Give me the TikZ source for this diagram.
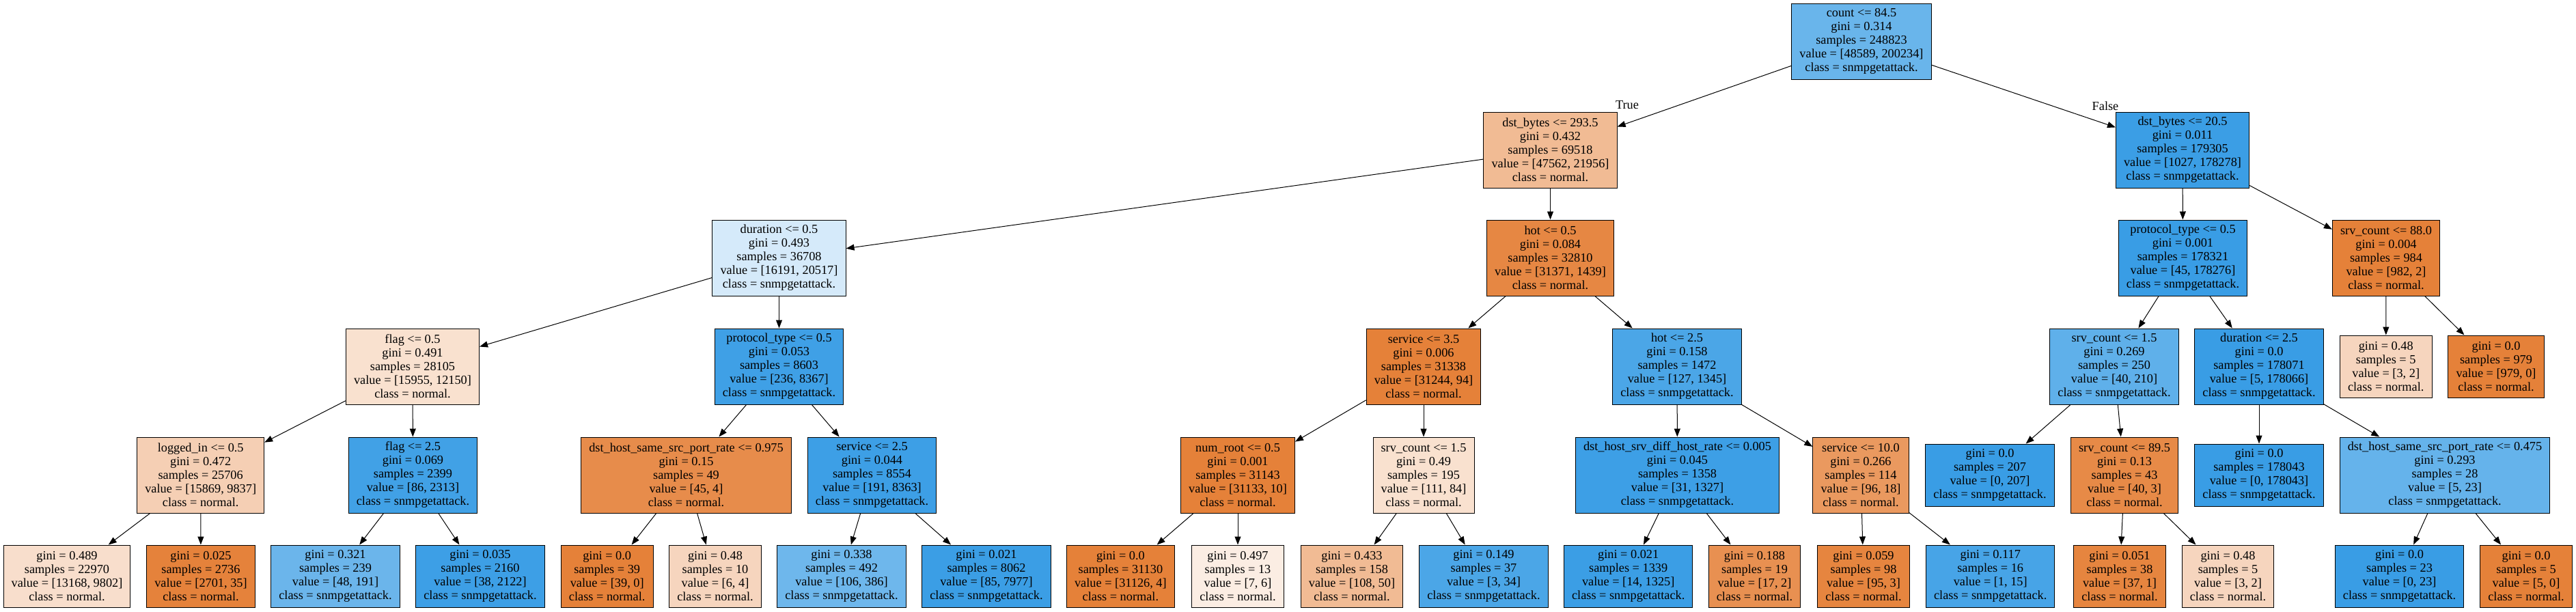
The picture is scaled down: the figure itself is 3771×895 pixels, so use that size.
\documentclass[tikz,border=0pt]{standalone}
\usepackage{fontspec}
\setmainfont{Liberation Serif}
\usepackage{tikz}
\usetikzlibrary{arrows,arrows.meta,shapes}
\definecolor{nrm}{HTML}{E58139}
\definecolor{atk}{HTML}{399DE5}
\newcommand{\treefont}{\fontsize{18.3}{20}\selectfont}
\tikzstyle{split}=[rectangle,draw=black,line width=1pt,align=center,inner xsep=11.6pt,inner ysep=0pt,minimum height=111pt,font=\treefont]
\tikzstyle{leaf}=[split,minimum height=91pt]
\tikzstyle{edge}=[line width=1pt,-{Triangle[length=12pt,width=9pt]}]
\tikzstyle{branch}=[font=\treefont,inner sep=0pt]

\begin{document}
\begin{tikzpicture}[x=1pt,y=-1pt]
		\useasboundingbox (0,0) rectangle (3771,895);
		% root
		\node[split,fill=atk!76!white] (n0) at (2725,60.5) {count <= 84.5\\gini = 0.314\\samples = 248823\\value = [48589, 200234]\\class = snmpgetattack.};
		% depth 1
		\node[split,fill=nrm!54!white] (n1) at (2269.5,219.5) {dst\_bytes <= 293.5\\gini = 0.432\\samples = 69518\\value = [47562, 21956]\\class = normal.};
		\node[split,fill=atk!99!white] (n2) at (3195,219.5) {dst\_bytes <= 20.5\\gini = 0.011\\samples = 179305\\value = [1027, 178278]\\class = snmpgetattack.};
		\node[branch] (lbltrue) at (2382,154) {True};
		\node[branch] (lblfalse) at (3082,155) {False};
		% depth 2
		\node[split,fill=atk!21!white] (n3) at (1140.5,377.5) {duration <= 0.5\\gini = 0.493\\samples = 36708\\value = [16191, 20517]\\class = snmpgetattack.};
		\node[split,fill=nrm!95!white] (n4) at (2269.5,377.5) {hot <= 0.5\\gini = 0.084\\samples = 32810\\value = [31371, 1439]\\class = normal.};
		\node[split,fill=atk] (n5) at (3195.5,377.5) {protocol\_type <= 0.5\\gini = 0.001\\samples = 178321\\value = [45, 178276]\\class = snmpgetattack.};
		\node[split,fill=nrm] (n6) at (3493,377.5) {srv\_count <= 88.0\\gini = 0.004\\samples = 984\\value = [982, 2]\\class = normal.};
		% depth 3
		\node[split,fill=nrm!24!white] (n7) at (604,536.5) {flag <= 0.5\\gini = 0.491\\samples = 28105\\value = [15955, 12150]\\class = normal.};
		\node[split,fill=atk!97!white] (n8) at (1140.5,536.5) {protocol\_type <= 0.5\\gini = 0.053\\samples = 8603\\value = [236, 8367]\\class = snmpgetattack.};
		\node[split,fill=nrm] (n9) at (2084,536.5) {service <= 3.5\\gini = 0.006\\samples = 31338\\value = [31244, 94]\\class = normal.};
		\node[split,fill=atk!91!white] (n10) at (2455,536.5) {hot <= 2.5\\gini = 0.158\\samples = 1472\\value = [127, 1345]\\class = snmpgetattack.};
		\node[split,fill=atk!81!white] (n11) at (3095,536.5) {srv\_count <= 1.5\\gini = 0.269\\samples = 250\\value = [40, 210]\\class = snmpgetattack.};
		\node[split,fill=atk] (n12) at (3307,536.5) {duration <= 2.5\\gini = 0.0\\samples = 178071\\value = [5, 178066]\\class = snmpgetattack.};
		\node[leaf,fill=nrm!33!white] (n13) at (3492.7,536.5) {gini = 0.48\\samples = 5\\value = [3, 2]\\class = normal.};
		\node[leaf,fill=nrm] (n14) at (3654,536.5) {gini = 0.0\\samples = 979\\value = [979, 0]\\class = normal.};
		% depth 4
		\node[split,fill=nrm!38!white] (n15) at (293.7,695.5) {logged\_in <= 0.5\\gini = 0.472\\samples = 25706\\value = [15869, 9837]\\class = normal.};
		\node[split,fill=atk!96!white] (n16) at (604.5,695.5) {flag <= 2.5\\gini = 0.069\\samples = 2399\\value = [86, 2313]\\class = snmpgetattack.};
		\node[split,fill=nrm!91!white] (n17) at (1004.5,695.5) {dst\_host\_same\_src\_port\_rate <= 0.975\\gini = 0.15\\samples = 49\\value = [45, 4]\\class = normal.};
		\node[split,fill=atk!98!white] (n18) at (1276.5,695.5) {service <= 2.5\\gini = 0.044\\samples = 8554\\value = [191, 8363]\\class = snmpgetattack.};
		\node[split,fill=nrm] (n19) at (1812,695.5) {num\_root <= 0.5\\gini = 0.001\\samples = 31143\\value = [31133, 10]\\class = normal.};
		\node[split,fill=nrm!24!white] (n20) at (2084,695.5) {srv\_count <= 1.5\\gini = 0.49\\samples = 195\\value = [111, 84]\\class = normal.};
		\node[split,fill=atk!98!white] (n21) at (2455.5,695.5) {dst\_host\_srv\_diff\_host\_rate <= 0.005\\gini = 0.045\\samples = 1358\\value = [31, 1327]\\class = snmpgetattack.};
		\node[split,fill=nrm!81!white] (n22) at (2724,695.5) {service <= 10.0\\gini = 0.266\\samples = 114\\value = [96, 18]\\class = normal.};
		\node[leaf,fill=atk] (n23) at (2913,695.5) {gini = 0.0\\samples = 207\\value = [0, 207]\\class = snmpgetattack.};
		\node[split,fill=nrm!93!white] (n24) at (3110,695.5) {srv\_count <= 89.5\\gini = 0.13\\samples = 43\\value = [40, 3]\\class = normal.};
		\node[leaf,fill=atk] (n25) at (3307,695.5) {gini = 0.0\\samples = 178043\\value = [0, 178043]\\class = snmpgetattack.};
		\node[split,fill=atk!78!white] (n26) at (3579,695.5) {dst\_host\_same\_src\_port\_rate <= 0.475\\gini = 0.293\\samples = 28\\value = [5, 23]\\class = snmpgetattack.};
		% depth 5
		\node[leaf,fill=nrm!26!white] (n27) at (98,843.5) {gini = 0.489\\samples = 22970\\value = [13168, 9802]\\class = normal.};
		\node[leaf,fill=nrm!99!white] (n28) at (294,843.5) {gini = 0.025\\samples = 2736\\value = [2701, 35]\\class = normal.};
		\node[leaf,fill=atk!75!white] (n29) at (491,843.5) {gini = 0.321\\samples = 239\\value = [48, 191]\\class = snmpgetattack.};
		\node[leaf,fill=atk!98!white] (n30) at (703,843.5) {gini = 0.035\\samples = 2160\\value = [38, 2122]\\class = snmpgetattack.};
		\node[leaf,fill=nrm] (n31) at (888.7,843.5) {gini = 0.0\\samples = 39\\value = [39, 0]\\class = normal.};
		\node[leaf,fill=nrm!33!white] (n32) at (1047,843.5) {gini = 0.48\\samples = 10\\value = [6, 4]\\class = normal.};
		\node[leaf,fill=atk!73!white] (n33) at (1232,843.5) {gini = 0.338\\samples = 492\\value = [106, 386]\\class = snmpgetattack.};
		\node[leaf,fill=atk!99!white] (n34) at (1444,843.5) {gini = 0.021\\samples = 8062\\value = [85, 7977]\\class = snmpgetattack.};
		\node[leaf,fill=nrm] (n35) at (1640.4,843.5) {gini = 0.0\\samples = 31130\\value = [31126, 4]\\class = normal.};
		\node[leaf,fill=nrm!14!white] (n36) at (1812,843.5) {gini = 0.497\\samples = 13\\value = [7, 6]\\class = normal.};
		\node[leaf,fill=nrm!54!white] (n37) at (1979,843.5) {gini = 0.433\\samples = 158\\value = [108, 50]\\class = normal.};
		\node[leaf,fill=atk!91!white] (n38) at (2172,843.5) {gini = 0.149\\samples = 37\\value = [3, 34]\\class = snmpgetattack.};
		\node[leaf,fill=atk!99!white] (n39) at (2383.7,843.5) {gini = 0.021\\samples = 1339\\value = [14, 1325]\\class = snmpgetattack.};
		\node[leaf,fill=nrm!88!white] (n40) at (2568.5,843.5) {gini = 0.188\\samples = 19\\value = [17, 2]\\class = normal.};
		\node[leaf,fill=nrm!97!white] (n41) at (2728,843.5) {gini = 0.059\\samples = 98\\value = [95, 3]\\class = normal.};
		\node[leaf,fill=atk!93!white] (n42) at (2913.7,843.5) {gini = 0.117\\samples = 16\\value = [1, 15]\\class = snmpgetattack.};
		\node[leaf,fill=nrm!97!white] (n43) at (3103,843.5) {gini = 0.051\\samples = 38\\value = [37, 1]\\class = normal.};
		\node[leaf,fill=nrm!33!white] (n44) at (3261.5,843.5) {gini = 0.48\\samples = 5\\value = [3, 2]\\class = normal.};
		\node[leaf,fill=atk] (n45) at (3512.5,843.5) {gini = 0.0\\samples = 23\\value = [0, 23]\\class = snmpgetattack.};
		\node[leaf,fill=nrm] (n46) at (3698,843.5) {gini = 0.0\\samples = 5\\value = [5, 0]\\class = normal.};
		% connection
		\draw[edge] (n0) -- (n1);
		\draw[edge] (n0) -- (n2);
		\draw[edge] (n1) -- (n3);
		\draw[edge] (n1) -- (n4);
		\draw[edge] (n2) -- (n5);
		\draw[edge] (n2) -- (n6);
		\draw[edge] (n3) -- (n7);
		\draw[edge] (n3) -- (n8);
		\draw[edge] (n4) -- (n9);
		\draw[edge] (n4) -- (n10);
		\draw[edge] (n5) -- (n11);
		\draw[edge] (n5) -- (n12);
		\draw[edge] (n6) -- (n13);
		\draw[edge] (n6) -- (n14);
		\draw[edge] (n7) -- (n15);
		\draw[edge] (n7) -- (n16);
		\draw[edge] (n8) -- (n17);
		\draw[edge] (n8) -- (n18);
		\draw[edge] (n9) -- (n19);
		\draw[edge] (n9) -- (n20);
		\draw[edge] (n10) -- (n21);
		\draw[edge] (n10) -- (n22);
		\draw[edge] (n11) -- (n23);
		\draw[edge] (n11) -- (n24);
		\draw[edge] (n12) -- (n25);
		\draw[edge] (n12) -- (n26);
		\draw[edge] (n15) -- (n27);
		\draw[edge] (n15) -- (n28);
		\draw[edge] (n16) -- (n29);
		\draw[edge] (n16) -- (n30);
		\draw[edge] (n17) -- (n31);
		\draw[edge] (n17) -- (n32);
		\draw[edge] (n18) -- (n33);
		\draw[edge] (n18) -- (n34);
		\draw[edge] (n19) -- (n35);
		\draw[edge] (n19) -- (n36);
		\draw[edge] (n20) -- (n37);
		\draw[edge] (n20) -- (n38);
		\draw[edge] (n21) -- (n39);
		\draw[edge] (n21) -- (n40);
		\draw[edge] (n22) -- (n41);
		\draw[edge] (n22) -- (n42);
		\draw[edge] (n24) -- (n43);
		\draw[edge] (n24) -- (n44);
		\draw[edge] (n26) -- (n45);
		\draw[edge] (n26) -- (n46);
	\end{tikzpicture}
\end{document}
